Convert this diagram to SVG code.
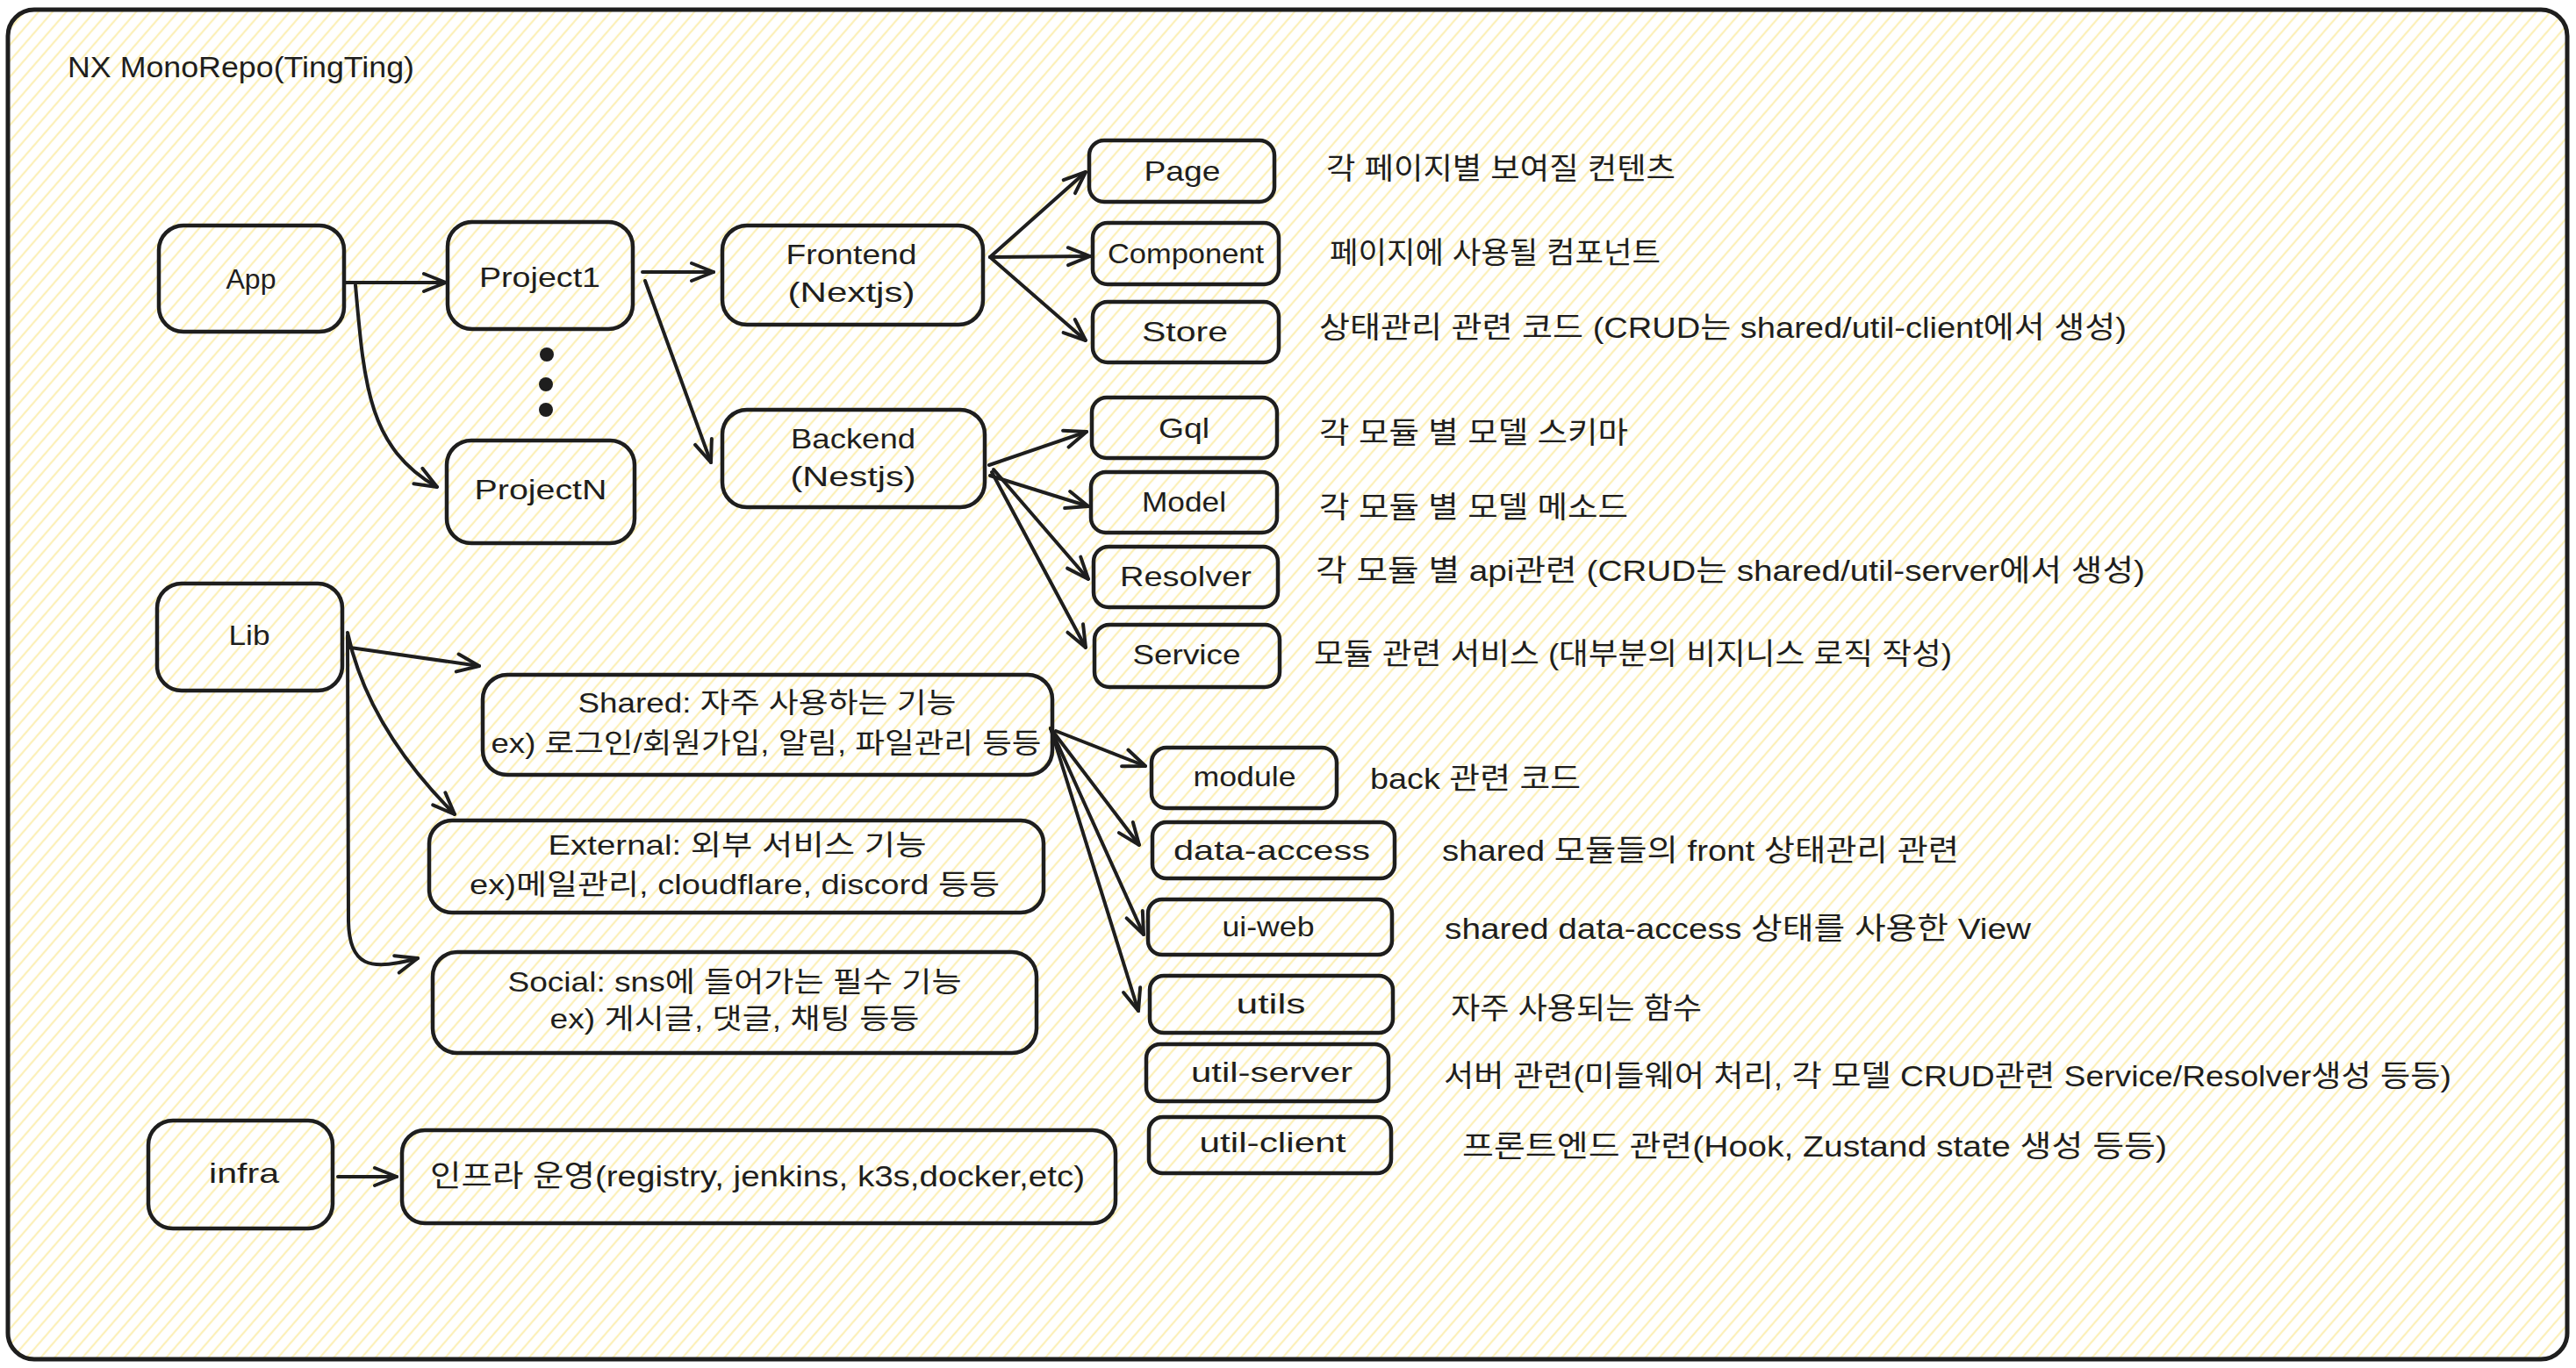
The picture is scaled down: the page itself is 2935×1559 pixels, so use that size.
<svg xmlns="http://www.w3.org/2000/svg" width="2935" height="1559" viewBox="0 0 2935 1559">
<style>
.box{fill:none;stroke:#1e1e1e;stroke-width:4.5;}
.t{font-family:"Liberation Sans","Noto Sans CJK KR",sans-serif;font-size:32px;fill:#1e1e1e;text-anchor:middle;dominant-baseline:central;}
.d{font-family:"Liberation Sans","Noto Sans CJK KR",sans-serif;font-size:34px;fill:#1e1e1e;text-anchor:start;dominant-baseline:central;}
.e{fill:none;stroke:#1e1e1e;stroke-width:4;stroke-linecap:round;stroke-linejoin:round;marker-end:url(#arr);}
.dot{fill:#1e1e1e;}
</style>
<defs>
<pattern id="hatch" patternUnits="userSpaceOnUse" width="12" height="12" patternTransform="rotate(-49)">
<rect width="12" height="12" fill="#ffffff"/>
<line x1="-1" y1="6" x2="13" y2="6" stroke="#fcf0b8" stroke-width="2.2"/>
</pattern>
<marker id="arr" markerUnits="userSpaceOnUse" viewBox="0 0 30 30" markerWidth="30" markerHeight="30" refX="28" refY="15" orient="auto">
<path d="M3,5 L28,15 L3,25" fill="none" stroke="#1e1e1e" stroke-width="4" stroke-linecap="round" stroke-linejoin="round"/>
</marker>
</defs>
<rect width="2935" height="1559" fill="#ffffff"/>
<g id="frame">
<rect x="9" y="11" width="2916" height="1538" rx="30" fill="url(#hatch)" stroke="#1e1e1e" stroke-width="5"/>
<text class="d" x="77" y="76" font-size="31" textLength="395" lengthAdjust="spacingAndGlyphs">NX MonoRepo(TingTing)</text>
</g>
<g id="connectors">
<path class="e" d="M393,322 L508,322"/>
<path class="e" d="M405,325 C415,440 420,510 498,555"/>
<path class="e" d="M732,310 L813,310"/>
<path class="e" d="M735,320 L810,527"/>
<path class="e" d="M1128,293 L1237,196"/>
<path class="e" d="M1128,293 L1242,292"/>
<path class="e" d="M1128,293 L1237,388"/>
<path class="e" d="M1127,530 L1238,492"/>
<path class="e" d="M1128,542 L1240,577"/>
<path class="e" d="M1132,535 L1240,660"/>
<path class="e" d="M1130,538 L1237,738"/>
<path class="e" d="M399,738 L546,759"/>
<path class="e" d="M396,721 C415,810 470,880 518,928"/>
<path class="e" d="M396,724 L397,1050 C398,1100 420,1108 476,1092"/>
<path class="e" d="M1203,833 L1305,873"/>
<path class="e" d="M1197,830 L1298,963"/>
<path class="e" d="M1197,830 L1303,1065"/>
<path class="e" d="M1197,830 L1297,1152"/>
<path class="e" d="M385,1341 L452,1341"/>
</g>
<g id="dots">
<circle class="dot" cx="623" cy="404" r="8"/>
<circle class="dot" cx="622" cy="438" r="8"/>
<circle class="dot" cx="622" cy="467" r="8"/>
</g>
<g id="app"><rect class="box" x="181" y="257" width="211" height="121" rx="28"/><text class="t" x="286" y="318" textLength="57" lengthAdjust="spacingAndGlyphs">App</text></g>
<g id="project1"><rect class="box" x="510" y="253" width="211" height="122" rx="28"/><text class="t" x="615" y="316" textLength="138" lengthAdjust="spacingAndGlyphs">Project1</text></g>
<g id="projectN"><rect class="box" x="509" y="502" width="214" height="117" rx="28"/><text class="t" x="616" y="558" textLength="151" lengthAdjust="spacingAndGlyphs">ProjectN</text></g>
<g id="frontend"><rect class="box" x="823" y="257" width="297" height="113" rx="28"/><text class="t" x="970" y="290" textLength="149" lengthAdjust="spacingAndGlyphs">Frontend</text><text class="t" x="970" y="333" textLength="145" lengthAdjust="spacingAndGlyphs">(Nextjs)</text></g>
<g id="backend"><rect class="box" x="823" y="467" width="299" height="111" rx="28"/><text class="t" x="972" y="500" textLength="142" lengthAdjust="spacingAndGlyphs">Backend</text><text class="t" x="972" y="543" textLength="143" lengthAdjust="spacingAndGlyphs">(Nestjs)</text></g>
<g id="page"><rect class="box" x="1241" y="160" width="211" height="70" rx="17"/><text class="t" x="1347" y="195" textLength="87" lengthAdjust="spacingAndGlyphs">Page</text><text class="d" x="1511" y="192" textLength="398" lengthAdjust="spacingAndGlyphs">각 페이지별 보여질 컨텐츠</text></g>
<g id="component"><rect class="box" x="1245" y="254" width="212" height="70" rx="17"/><text class="t" x="1351" y="289" textLength="178" lengthAdjust="spacingAndGlyphs">Component</text><text class="d" x="1515" y="288" textLength="377" lengthAdjust="spacingAndGlyphs">페이지에 사용될 컴포넌트</text></g>
<g id="store"><rect class="box" x="1245" y="344" width="212" height="69" rx="17"/><text class="t" x="1350" y="378" textLength="98" lengthAdjust="spacingAndGlyphs">Store</text><text class="d" x="1503" y="373" textLength="920" lengthAdjust="spacingAndGlyphs">상태관리 관련 코드 (CRUD는 shared/util-client에서 생성)</text></g>
<g id="gql"><rect class="box" x="1244" y="453" width="211" height="69" rx="17"/><text class="t" x="1349" y="488" textLength="58" lengthAdjust="spacingAndGlyphs">Gql</text><text class="d" x="1503" y="493" textLength="352" lengthAdjust="spacingAndGlyphs">각 모듈 별 모델 스키마</text></g>
<g id="model"><rect class="box" x="1243" y="538" width="212" height="69" rx="17"/><text class="t" x="1349" y="572" textLength="96" lengthAdjust="spacingAndGlyphs">Model</text><text class="d" x="1503" y="578" textLength="352" lengthAdjust="spacingAndGlyphs">각 모듈 별 모델 메소드</text></g>
<g id="resolver"><rect class="box" x="1246" y="623" width="210" height="69" rx="17"/><text class="t" x="1351" y="657" textLength="150" lengthAdjust="spacingAndGlyphs">Resolver</text><text class="d" x="1499" y="650" textLength="945" lengthAdjust="spacingAndGlyphs">각 모듈 별 api관련 (CRUD는 shared/util-server에서 생성)</text></g>
<g id="service"><rect class="box" x="1247" y="712" width="211" height="71" rx="17"/><text class="t" x="1352" y="746" textLength="123" lengthAdjust="spacingAndGlyphs">Service</text><text class="d" x="1497" y="745" textLength="727" lengthAdjust="spacingAndGlyphs">모듈 관련 서비스 (대부분의 비지니스 로직 작성)</text></g>
<g id="lib"><rect class="box" x="179" y="665" width="211" height="122" rx="28"/><text class="t" x="284" y="724" textLength="47" lengthAdjust="spacingAndGlyphs">Lib</text></g>
<g id="shared"><rect class="box" x="550" y="769" width="649" height="114" rx="28"/><text class="t" x="874" y="801" textLength="431" lengthAdjust="spacingAndGlyphs">Shared: 자주 사용하는 기능</text><text class="t" x="873" y="847" textLength="627" lengthAdjust="spacingAndGlyphs">ex) 로그인/회원가입, 알림, 파일관리 등등</text></g>
<g id="external"><rect class="box" x="489" y="935" width="700" height="105" rx="26"/><text class="t" x="840" y="963" textLength="431" lengthAdjust="spacingAndGlyphs">External: 외부 서비스 기능</text><text class="t" x="837" y="1008" textLength="604" lengthAdjust="spacingAndGlyphs">ex)메일관리, cloudflare, discord 등등</text></g>
<g id="social"><rect class="box" x="493" y="1085" width="688" height="115" rx="28"/><text class="t" x="837" y="1119" textLength="517" lengthAdjust="spacingAndGlyphs">Social: sns에 들어가는 필수 기능</text><text class="t" x="837" y="1161" textLength="421" lengthAdjust="spacingAndGlyphs">ex) 게시글, 댓글, 채팅 등등</text></g>
<g id="module"><rect class="box" x="1312" y="852" width="211" height="69" rx="17"/><text class="t" x="1418" y="885" textLength="117" lengthAdjust="spacingAndGlyphs">module</text><text class="d" x="1561" y="887" textLength="240" lengthAdjust="spacingAndGlyphs">back 관련 코드</text></g>
<g id="data-access"><rect class="box" x="1313" y="937" width="276" height="64" rx="16"/><text class="t" x="1449" y="969" textLength="224" lengthAdjust="spacingAndGlyphs">data-access</text><text class="d" x="1643" y="969" textLength="589" lengthAdjust="spacingAndGlyphs">shared 모듈들의 front 상태관리 관련</text></g>
<g id="ui-web"><rect class="box" x="1308" y="1025" width="278" height="63" rx="16"/><text class="t" x="1445" y="1056" textLength="105" lengthAdjust="spacingAndGlyphs">ui-web</text><text class="d" x="1646" y="1058" textLength="668" lengthAdjust="spacingAndGlyphs">shared data-access 상태를 사용한 View</text></g>
<g id="utils"><rect class="box" x="1310" y="1112" width="277" height="65" rx="16"/><text class="t" x="1448" y="1144" textLength="79" lengthAdjust="spacingAndGlyphs">utils</text><text class="d" x="1653" y="1149" textLength="286" lengthAdjust="spacingAndGlyphs">자주 사용되는 함수</text></g>
<g id="util-server"><rect class="box" x="1306" y="1190" width="276" height="65" rx="16"/><text class="t" x="1449" y="1222" textLength="184" lengthAdjust="spacingAndGlyphs">util-server</text><text class="d" x="1645" y="1226" textLength="1148" lengthAdjust="spacingAndGlyphs">서버 관련(미들웨어 처리, 각 모델 CRUD관련 Service/Resolver생성 등등)</text></g>
<g id="util-client"><rect class="box" x="1309" y="1273" width="276" height="64" rx="16"/><text class="t" x="1450" y="1302" textLength="167" lengthAdjust="spacingAndGlyphs">util-client</text><text class="d" x="1666" y="1306" textLength="803" lengthAdjust="spacingAndGlyphs">프론트엔드 관련(Hook, Zustand state 생성 등등)</text></g>
<g id="infra"><rect class="box" x="169" y="1277" width="210" height="123" rx="28"/><text class="t" x="278" y="1337" textLength="80" lengthAdjust="spacingAndGlyphs">infra</text></g>
<g id="infra-desc"><rect class="box" x="458" y="1288" width="813" height="106" rx="26"/><text class="d" x="490" y="1340" textLength="746" lengthAdjust="spacingAndGlyphs">인프라 운영(registry, jenkins, k3s,docker,etc)</text></g>
</svg>
